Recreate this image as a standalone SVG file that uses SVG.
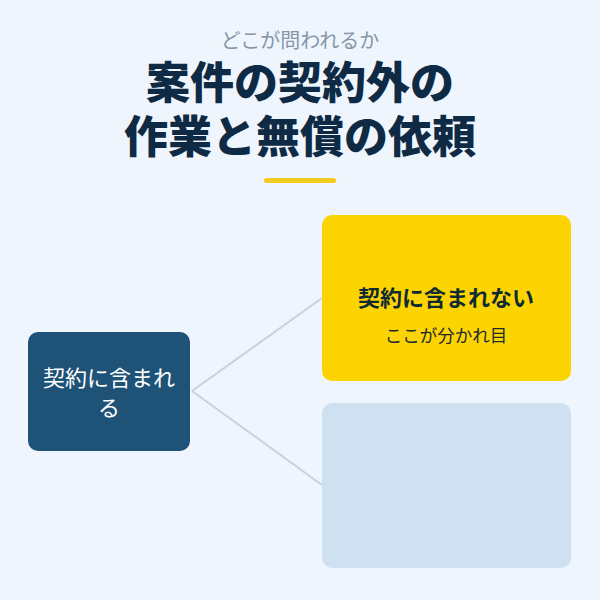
<svg xmlns="http://www.w3.org/2000/svg" width="600" height="600" viewBox="0 0 600 600">
<style>
.jp{font-family:"Noto Sans CJK JP","Noto Sans",sans-serif;}
.title{font-size:44px;font-weight:900;fill:#0f2a44;text-anchor:middle;}
.conn{stroke:#c5d3e1;stroke-width:2;fill:none;}
</style>
<rect width="600" height="600" fill="#eef5fd"/>
<text class="jp" x="300" y="48" font-size="20" fill="#8695a8" text-anchor="middle">どこが問われるか</text>
<text class="jp title" x="300" y="99">案件の契約外の</text>
<text class="jp title" x="300" y="153">作業と無償の依頼</text>
<rect x="264" y="178" width="72" height="5" rx="2.5" fill="#f2cb1c"/>
<g id="connectors">
<line class="conn" x1="192" y1="391" x2="322" y2="298"/>
<line class="conn" x1="192" y1="391" x2="322" y2="485"/>
</g>
<g id="node-included">
<rect x="28" y="332" width="162" height="119" rx="10" fill="#1e5276"/>
<text class="jp" x="109" y="386" font-size="22" fill="#ffffff" text-anchor="middle">契約に含まれ</text>
<text class="jp" x="109" y="416" font-size="22" fill="#ffffff" text-anchor="middle">る</text>
</g>
<g id="node-excluded">
<rect x="322" y="215" width="249" height="166" rx="10" fill="#fcd401"/>
<text class="jp" x="446" y="306" font-size="22" font-weight="700" fill="#0f2a33" text-anchor="middle">契約に含まれない</text>
<text class="jp" x="446" y="342" font-size="17.5" fill="#1f2a30" text-anchor="middle">ここが分かれ目</text>
</g>
<g id="node-empty">
<rect x="322" y="403" width="249" height="165" rx="10" fill="#cfe0f0"/>
</g>
</svg>
